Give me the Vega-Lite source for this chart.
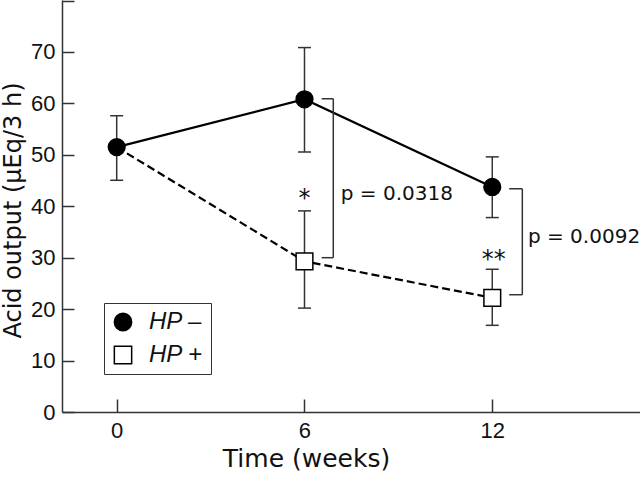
{
  "$schema": "https://vega.github.io/schema/vega-lite/v6.json",
  "width": 578,
  "height": 412,
  "autosize": "none",
  "padding": {"left": 62, "top": 0, "right": 0, "bottom": 65},
  "background": "white",
  "config": {
    "view": {"stroke": null},
    "font": "Liberation Sans",
    "axis": {"grid": false, "domainColor": "#333", "domainWidth": 1.5, "tickColor": "#333", "tickWidth": 1.5, "labelColor": "#111", "titleColor": "#111", "labelFontSize": 22, "titleFontSize": 25, "titleFontWeight": "normal", "labelFont": "Liberation Sans", "titleFont": "DejaVu Sans"}
  },
  "datasets": {
    "series": [
      {"series": "HP –", "week": 0, "value": 51.5, "lo": 45.05, "hi": 57.6},
      {"series": "HP –", "week": 6, "value": 60.8, "lo": 50.55, "hi": 70.85},
      {"series": "HP –", "week": 12, "value": 43.75, "lo": 37.8, "hi": 49.6},
      {"series": "HP +", "week": 0, "value": 51.5, "lo": null, "hi": null},
      {"series": "HP +", "week": 6, "value": 29.3, "lo": 20.2, "hi": 39.1},
      {"series": "HP +", "week": 12, "value": 22.2, "lo": 16.85, "hi": 27.75}
    ],
    "brackets": [
      {"x": 6.55, "x2": 6.92, "y": 60.9, "y2": 60.9},
      {"x": 6.92, "x2": 6.92, "y": 60.9, "y2": 30.0},
      {"x": 6.55, "x2": 6.92, "y": 30.0, "y2": 30.0},
      {"x": 12.54, "x2": 12.96, "y": 43.4, "y2": 43.4},
      {"x": 12.96, "x2": 12.96, "y": 43.4, "y2": 22.8},
      {"x": 12.54, "x2": 12.96, "y": 22.8, "y2": 22.8}
    ],
    "pvalues": [
      {"text": "p = 0.0318", "x": 7.16, "y": 41.3},
      {"text": "p = 0.0092", "x": 13.14, "y": 32.8}
    ],
    "stars": [
      {"text": "*", "x": 6.0, "y": 40.0},
      {"text": "**", "x": 12.05, "y": 28.1}
    ]
  },
  "layer": [
    {
      "data": {"name": "series"},
      "transform": [{"filter": "datum.series === 'HP –'"}],
      "mark": {"type": "line", "color": "black", "strokeWidth": 2.2},
      "encoding": {
        "x": {"field": "week", "type": "quantitative",
          "scale": {"domain": [-1.748, 16.72], "nice": false, "zero": false},
          "axis": {"values": [0, 6, 12], "tickSize": -13, "labelPadding": 21, "title": "Time (weeks)", "titleX": 244, "titleY": 54, "titleBaseline": "alphabetic", "titleAnchor": "middle"}},
        "y": {"field": "value", "type": "quantitative",
          "scale": {"domain": [0, 80.1], "nice": false, "zero": false},
          "axis": {"values": [0, 5, 10, 15, 20, 25, 30, 35, 40, 45, 50, 55, 60, 65, 70, 75, 80],
            "tickSize": {"condition": {"test": "datum.value % 10 === 0", "value": -12}, "value": -7},
            "labelExpr": "datum.value % 10 === 0 && datum.value <= 70 ? datum.label : ''",
            "labelPadding": 19,
            "title": "Acid output (µEq/3 h)", "titleFontSize": 24, "titleX": -42, "titleY": 210, "titleBaseline": "alphabetic"}}
      }
    },
    {
      "data": {"name": "series"},
      "transform": [{"filter": "datum.series === 'HP +'"}],
      "mark": {"type": "line", "color": "black", "strokeWidth": 2.2, "strokeDash": [8, 4]},
      "encoding": {
        "x": {"field": "week", "type": "quantitative"},
        "y": {"field": "value", "type": "quantitative"}
      }
    },
    {
      "data": {"name": "series"},
      "transform": [{"filter": "isValid(datum.lo)"}],
      "mark": {"type": "rule", "color": "#333", "strokeWidth": 1.5},
      "encoding": {
        "x": {"field": "week", "type": "quantitative"},
        "y": {"field": "lo", "type": "quantitative"},
        "y2": {"field": "hi"}
      }
    },
    {
      "data": {"name": "series"},
      "transform": [{"filter": "isValid(datum.lo)"}],
      "mark": {"type": "tick", "orient": "horizontal", "color": "#333", "size": 13, "thickness": 1.5, "opacity": 1},
      "encoding": {
        "x": {"field": "week", "type": "quantitative"},
        "y": {"field": "lo", "type": "quantitative"}
      }
    },
    {
      "data": {"name": "series"},
      "transform": [{"filter": "isValid(datum.hi)"}],
      "mark": {"type": "tick", "orient": "horizontal", "color": "#333", "size": 13, "thickness": 1.5, "opacity": 1},
      "encoding": {
        "x": {"field": "week", "type": "quantitative"},
        "y": {"field": "hi", "type": "quantitative"}
      }
    },
    {
      "data": {"name": "brackets"},
      "mark": {"type": "rule", "color": "#333", "strokeWidth": 1.5},
      "encoding": {
        "x": {"field": "x", "type": "quantitative"},
        "x2": {"field": "x2"},
        "y": {"field": "y", "type": "quantitative"},
        "y2": {"field": "y2"}
      }
    },
    {
      "data": {"name": "series"},
      "transform": [{"filter": "datum.week > 0 || datum.series === 'HP –'"}],
      "mark": {"type": "point", "stroke": "black", "strokeWidth": 1.5, "opacity": 1, "fillOpacity": 1, "size": 280},
      "encoding": {
        "x": {"field": "week", "type": "quantitative"},
        "y": {"field": "value", "type": "quantitative"},
        "fill": {"field": "series", "type": "nominal", "scale": {"domain": ["HP –", "HP +"], "range": ["black", "white"]},
          "legend": {"orient": "none", "legendX": 42, "legendY": 303, "title": null, "strokeColor": "#333", "padding": 7, "labelFontSize": 24, "labelFontStyle": "italic", "labelFont": "Liberation Sans", "labelColor": "#111", "symbolStrokeColor": "black", "symbolStrokeWidth": 1.5, "symbolSize": 300, "rowPadding": 9, "labelOffset": 14, "symbolOpacity": 1,
            "encode": {"symbols": {"update": {"stroke": {"value": "black"}, "strokeWidth": {"value": 1.5}, "opacity": {"value": 1}}}}}},
        "shape": {"field": "series", "type": "nominal", "scale": {"domain": ["HP –", "HP +"], "range": ["circle", "square"]},
          "legend": {"orient": "none", "legendX": 42, "legendY": 303, "title": null, "strokeColor": "#333", "padding": 7, "labelFontSize": 24, "labelFontStyle": "italic", "labelFont": "Liberation Sans", "labelColor": "#111", "symbolStrokeColor": "black", "symbolStrokeWidth": 1.5, "symbolSize": 300, "rowPadding": 9, "labelOffset": 14, "symbolOpacity": 1,
            "encode": {"symbols": {"update": {"stroke": {"value": "black"}, "strokeWidth": {"value": 1.5}, "opacity": {"value": 1}}}}}}
      }
    },
    {
      "data": {"name": "pvalues"},
      "mark": {"type": "text", "fontSize": 20, "font": "DejaVu Sans", "color": "#111", "baseline": "alphabetic", "align": "left"},
      "encoding": {
        "x": {"field": "x", "type": "quantitative"},
        "y": {"field": "y", "type": "quantitative"},
        "text": {"field": "text"}
      }
    },
    {
      "data": {"name": "stars"},
      "mark": {"type": "text", "fontSize": 24, "font": "DejaVu Sans", "color": "#111", "baseline": "alphabetic", "align": "center"},
      "encoding": {
        "x": {"field": "x", "type": "quantitative"},
        "y": {"field": "y", "type": "quantitative"},
        "text": {"field": "text"}
      }
    }
  ]
}
